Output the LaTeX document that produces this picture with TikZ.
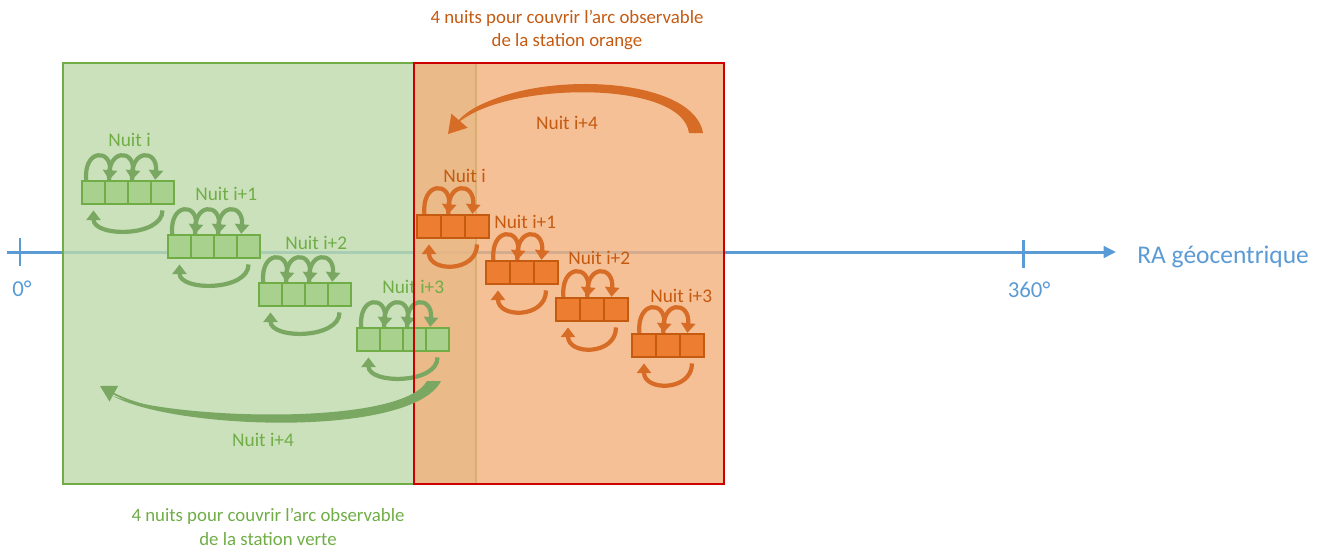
\documentclass[tikz,border=0pt]{standalone}
\usepackage{fontspec}
\setmainfont{Carlito}
\usetikzlibrary{arrows.meta}
\definecolor{axisblue}{RGB}{91,155,213}
\definecolor{verte}{RGB}{112,173,71}
\definecolor{vertefond}{RGB}{189,218,170}
\definecolor{vertecase}{RGB}{169,209,142}
\definecolor{vertefleche}{RGB}{122,168,98}
\definecolor{orangefond}{RGB}{243,176,124}
\definecolor{orangecase}{RGB}{237,125,49}
\definecolor{orangebord}{RGB}{197,90,17}
\definecolor{orangefleche}{RGB}{214,108,38}
\definecolor{rouge}{RGB}{204,0,0}

\begin{document}
\begin{tikzpicture}[x=0.02cm,y=-0.02cm,
    every node/.style={font=\fontsize{11}{13}\selectfont},
    cellv/.style={draw=verte,fill=vertecase,line width=1.3pt,minimum width=0.46cm,minimum height=0.46cm,inner sep=0pt},
    cello/.style={draw=orangebord,fill=orangecase,line width=1.3pt,minimum width=0.48cm,minimum height=0.46cm,inner sep=0pt},
    hoopv/.style={draw=vertefleche,line width=2.4pt,-{Triangle[length=5.5pt,width=8pt]}},
    hoopo/.style={draw=orangefleche,line width=2.4pt,-{Triangle[length=5.5pt,width=8pt]}},
    nuitv/.style={text=verte,anchor=west,inner sep=0pt},
    nuito/.style={text=orangebord,anchor=west,inner sep=0pt},
    legende/.style={align=center,font=\fontsize{10.7}{13.6}\selectfont}]
  \useasboundingbox (0,0) rectangle (1331,549);
  % axe RA
  \coordinate (ax0) at (7,252);
  \coordinate (ax1) at (1116,252);
  \draw[axisblue,line width=1.7pt,-{Triangle[length=7pt,width=6.5pt]}] (ax0) -- (ax1);
  \draw[axisblue,line width=1.7pt] (20,238) -- (20,266);
  \draw[axisblue,line width=1.7pt] (1023,240) -- (1023,268);
  \node[text=axisblue,font=\fontsize{13}{15}\selectfont] (l0) at (22,289) {0°};
  \node[text=axisblue,font=\fontsize{13}{15}\selectfont] (l360) at (1029,290) {360°};
  \node[text=axisblue,anchor=west,inner sep=0pt,font=\fontsize{14.5}{17}\selectfont] (ra) at (1137,257) {RA géocentrique};

  % zones observables
  \draw[verte,line width=1.1pt,fill=vertefond,fill opacity=.8] (63,63) rectangle (476,484);
  \fill[orangefond,opacity=.8] (414,63) rectangle (724,484);

  % station verte
  \foreach \b/\x/\y/\lx/\ly/\t in {1/82/181/108/140/{Nuit i},2/168/235/195/194/{Nuit i+1},3/259/283/285/243/{Nuit i+2},4/357/328/382/287/{Nuit i+3}}{
    \node[nuitv] (lv\b) at (\lx,\ly) {\t};
    \foreach \c in {1,...,4}
      \node[cellv] (v\b\c) at (\x+23*\c-11.5,\y+11.5) {};
    \foreach \c/\d in {1/2,2/3,3/4}
      \draw[hoopv] (v\b\c.120) to[out=95,in=85,looseness=3.5] (v\b\d.120);
    \draw[hoopv] ([yshift=-3pt]v\b4.south) to[out=-90,in=-90,looseness=1] ([yshift=-3pt]v\b1.south);
  }

  % station orange
  \foreach \b/\x/\y/\lx/\ly/\t in {1/417/215/443/176/{Nuit i},2/486/261/494/222/{Nuit i+1},3/556/298/568/258/{Nuit i+2},4/632/334/650/296/{Nuit i+3}}{
    \node[nuito] (lo\b) at (\lx,\ly) {\t};
    \foreach \c in {1,2,3}
      \node[cello] (o\b\c) at (\x+24*\c-12,\y+11.5) {};
    \foreach \c/\d in {1/2,2/3}
      \draw[hoopo] (o\b\c.110) to[out=95,in=85,looseness=3.5] (o\b\d.110);
    \draw[hoopo] ([yshift=-3pt]o\b3.south) to[out=-90,in=-90,looseness=1.5] ([yshift=-3pt]o\b1.south);
  }

  \draw[rouge,line width=1.2pt] (414,63) rectangle (724,484);

  % nuit i+4
  \fill[vertefleche] (441,381) .. controls (412,438) and (175,430) .. (113,396)
    .. controls (178,420) and (402,426) .. (427,381) -- cycle;
  \draw[vertefleche,line width=1pt,-{Triangle[length=9pt,width=10pt]}] (434,381) .. controls (407,434) and (176,428) .. (100,386);
  \node[text=verte] (n4v) at (263,440) {Nuit i+4};

  \fill[orangefleche] (703,133) .. controls (692,70) and (505,70) .. (462,120)
    .. controls (512,82) and (682,80) .. (689,133) -- cycle;
  \draw[orangefleche,line width=1pt,-{Triangle[length=10pt,width=12pt]}] (696,133) .. controls (687,75) and (500,74) .. (448,134);
  \node[text=orangebord] (n4o) at (567,123) {Nuit i+4};

  % legendes
  \node[legende,text=orangebord] (capo) at (567,30) {4 nuits pour couvrir l’arc observable\\de la station orange};
  \node[legende,text=verte] (capv) at (268,527) {4 nuits pour couvrir l’arc observable\\de la station verte};
\end{tikzpicture}
\end{document}
